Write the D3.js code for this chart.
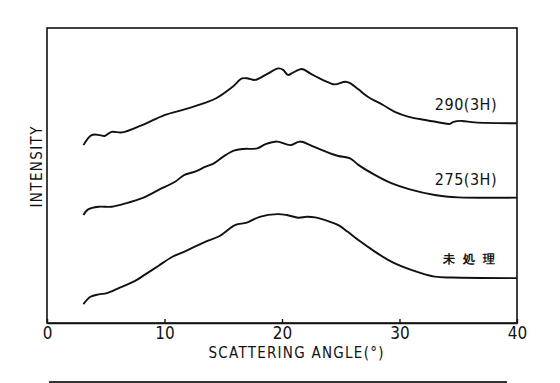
<!DOCTYPE html>
<html>
<head>
<meta charset="utf-8">
<script src="https://cdn.jsdelivr.net/npm/d3@7"></script>
<style>
  body { margin: 0; background: #fff; }
  svg { display: block; }
  text { font-family: "DejaVu Sans Condensed", "DejaVu Sans", sans-serif; fill: #111; }
</style>
</head>
<body>
<svg id="chart" width="560" height="383"></svg>
<script>
const width = 560;
const height = 383;
const margin = { top: 28, right: 43, bottom: 60, left: 47 };

// scattering angle (deg) / relative intensity
const angle290 = [3.1, 3.8, 4.5, 4.9, 5.5, 6.4, 8.1, 10.0, 11.7, 13.5, 14.4, 15.8, 16.6, 17.1, 17.7, 18.6, 19.7, 20.1, 20.5, 20.9, 21.7, 22.4, 23.2, 24.1, 24.5, 25.4, 25.8, 26.5, 27.3, 28.6, 29.6, 30.8, 32.2, 33.5, 34.3, 34.6, 35.3, 36.4, 40.0];
const int290 = [60.3, 63.7, 63.7, 63.4, 64.8, 64.6, 67.1, 70.5, 72.4, 74.7, 76.2, 80.1, 82.9, 82.9, 82.4, 84.1, 86.3, 85.8, 84.1, 84.8, 86.1, 84.6, 82.9, 81.3, 80.9, 81.8, 81.3, 79.2, 76.7, 73.9, 71.6, 69.9, 68.8, 67.9, 67.5, 68.2, 68.5, 68.0, 67.7];

const angle275 = [3.1, 3.5, 4.4, 5.5, 6.9, 8.1, 9.5, 10.9, 11.7, 12.6, 13.5, 14.2, 15.0, 15.9, 16.7, 17.9, 18.6, 19.6, 20.7, 21.5, 22.4, 23.2, 24.1, 24.8, 25.8, 26.5, 27.9, 29.3, 30.8, 33.0, 35.0, 40.0];
const int275 = [36.6, 38.5, 39.4, 39.4, 40.8, 42.3, 45.1, 47.9, 50.2, 51.3, 53.0, 54.1, 56.4, 58.4, 59.0, 59.2, 60.6, 61.5, 60.3, 61.5, 60.3, 58.9, 57.5, 56.6, 55.8, 53.6, 50.2, 47.4, 45.4, 43.4, 42.6, 42.5];

const angleRaw = [3.1, 3.7, 4.4, 5.1, 6.1, 7.5, 8.3, 9.5, 10.6, 11.7, 13.5, 14.7, 16.0, 17.0, 18.1, 19.6, 20.4, 21.4, 22.1, 22.8, 24.1, 24.8, 25.6, 26.5, 27.9, 29.3, 31.0, 33.0, 34.5, 40.0];
const intRaw = [6.4, 8.9, 9.7, 10.1, 11.8, 14.3, 16.3, 19.4, 22.3, 24.2, 27.6, 29.5, 33.2, 34.0, 36.0, 36.9, 36.6, 35.7, 36.0, 35.8, 34.3, 33.2, 30.9, 28.1, 24.2, 20.8, 18.0, 15.7, 15.4, 15.2];

const seriesLabels = ["290(3H)", "275(3H)", "未処理"];
const xTicks = [0, 10, 20, 30, 40];

const series = [
    { label: seriesLabels[0], pts: angle290.map((a, i) => [a, int290[i]]) },
    { label: seriesLabels[1], pts: angle275.map((a, i) => [a, int275[i]]) },
    { label: seriesLabels[2], pts: angleRaw.map((a, i) => [a, intRaw[i]]) }
];

const svg = d3.select("#chart");
const innerW = width - margin.left - margin.right;
const innerH = height - margin.top - margin.bottom;

const x = d3.scaleLinear().domain([0, 40]).range([0, innerW]);
const y = d3.scaleLinear().domain([0, 100]).range([innerH, 0]);

const g = svg.append("g")
    .attr("transform", `translate(${margin.left}, ${margin.top})`);

// frame
g.append("rect")
    .attr("x", 0)
    .attr("y", 0)
    .attr("width", innerW)
    .attr("height", innerH)
    .attr("fill", "none")
    .attr("stroke", "#111")
    .attr("stroke-width", 1.6);

// x axis, ticks pointing inward
const xAxis = d3.axisBottom(x)
    .tickValues(xTicks)
    .tickSizeInner(-4)
    .tickSizeOuter(0)
    .tickPadding(4);

const ax = g.append("g")
    .attr("transform", `translate(0, ${innerH})`)
    .call(xAxis);
ax.select(".domain").attr("stroke", "#111").attr("stroke-width", 1.6);
ax.selectAll(".tick line").attr("stroke", "#111").attr("stroke-width", 1.4);
ax.selectAll(".tick text")
    .attr("font-size", 17)
    .attr("font-family", null)
    .attr("fill", "#111");

// curves
const line = d3.line()
    .x(d => x(d[0]))
    .y(d => y(d[1]))
    .curve(d3.curveCatmullRom.alpha(0.5));

g.selectAll("path.curve")
    .data(series)
    .enter()
    .append("path")
    .attr("class", "curve")
    .attr("d", d => line(d.pts))
    .attr("fill", "none")
    .attr("stroke", "#111")
    .attr("stroke-width", 1.9)
    .attr("stroke-linejoin", "round");

// series labels, sitting above the flat tail of each curve
g.selectAll("text.lbl")
    .data(series)
    .enter()
    .append("text")
    .attr("class", "lbl")
    .attr("x", (d, i) => i == 2 ? x(38.1) + 8 : x(38.3))
    .attr("y", (d, i) => y(d.pts[d.pts.length - 1][1]) + (i == 2 ? -15 : -13))
    .attr("text-anchor", "end")
    .attr("font-size", (d, i) => i == 2 ? 12 : 16)
    .attr("letter-spacing", (d, i) => i == 2 ? 8 : 0.5)
    .attr("font-family", (d, i) => i == 2 ? "'Noto Sans CJK JP', sans-serif" : null)
    .attr("font-weight", (d, i) => i == 2 ? 700 : 400)
    .text(d => d.label);

// axis titles
svg.append("text")
    .attr("x", 296)
    .attr("y", 358)
    .attr("text-anchor", "middle")
    .attr("font-size", 15)
    .attr("textLength", 175)
    .attr("lengthAdjust", "spacing")
    .text("SCATTERING ANGLE(°)");

svg.append("text")
    .attr("transform", "translate(42, 167) rotate(-90)")
    .attr("text-anchor", "middle")
    .attr("font-size", 15)
    .attr("textLength", 81)
    .attr("lengthAdjust", "spacing")
    .text("INTENSITY");

// rule at the foot of the page
svg.append("line")
    .attr("x1", 49)
    .attr("x2", 507)
    .attr("y1", 382)
    .attr("y2", 382)
    .attr("stroke", "#333")
    .attr("stroke-width", 2);
</script>
</body>
</html>
